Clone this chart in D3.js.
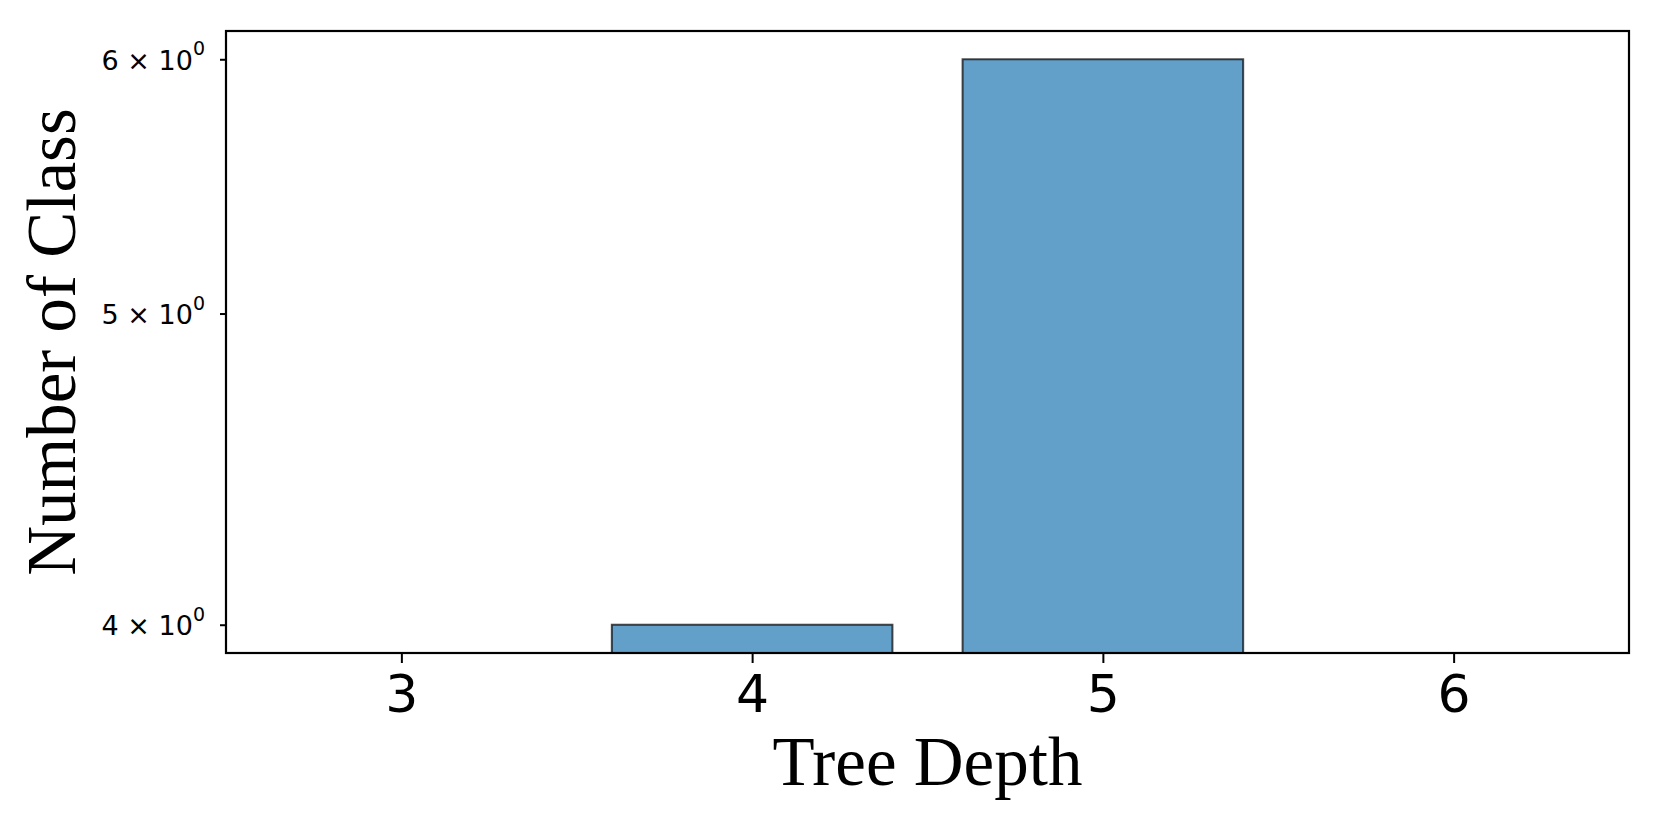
<!DOCTYPE html>
<html>
<head>
<meta charset="utf-8">
<script src="https://cdn.jsdelivr.net/npm/d3@7"></script>
<style>
  html, body { margin: 0; padding: 0; background: #ffffff; }
  svg { display: block; }
</style>
</head>
<body>
<svg id="chart" width="1661" height="830"></svg>
<script>
// ---- data ----
const categories = [3, 4, 5, 6];
const values = [0, 4, 6, 0];          // 0 = no visible bar on the log axis
const xTicks = [3, 4, 5, 6];
const yTicks = [4, 5, 6];
const yTickMantissa = ["4", "5", "6"];
const xLabel = "Tree Depth";
const yLabel = "Number of Class";

// ---- layout ----
const W = 1661, H = 830;
const plot = { left: 226, top: 31, right: 1629, bottom: 653 };
const svg = d3.select("#chart");

const x = d3.scaleLinear().domain([2.5, 6.5]).range([plot.left, plot.right]);

const positive = values.filter(v => v > 0);
const lmin = Math.log10(d3.min(positive)), lmax = Math.log10(d3.max(positive));
const pad = 0.05 * (lmax - lmin);
const y = d3.scaleLog()
  .domain([Math.pow(10, lmin - pad), Math.pow(10, lmax + pad)])
  .range([plot.bottom, plot.top]);

svg.append("defs").append("clipPath").attr("id", "clip")
  .append("rect")
  .attr("x", plot.left).attr("y", plot.top)
  .attr("width", plot.right - plot.left).attr("height", plot.bottom - plot.top);

// ---- bars ----
const barW = 0.8;
const data = categories.map((c, i) => ({ c, v: values[i] })).filter(d => d.v > 0);
svg.append("g").attr("clip-path", "url(#clip)")
  .selectAll("rect").data(data).enter().append("rect")
  .attr("x", d => x(d.c - barW / 2))
  .attr("width", d => x(d.c + barW / 2) - x(d.c - barW / 2))
  .attr("y", d => y(d.v))
  .attr("height", d => plot.bottom + 20 - y(d.v))
  .attr("fill", "#1f77b4").attr("fill-opacity", 0.7)
  .attr("stroke", "#000").attr("stroke-opacity", 0.7).attr("stroke-width", 2);

// ---- axes ----
const xAxis = svg.append("g")
  .attr("transform", `translate(0,${plot.bottom})`)
  .call(d3.axisBottom(x).tickValues(xTicks).tickFormat(d3.format("d")).tickSize(10).tickPadding(12));
xAxis.select(".domain").remove();
xAxis.selectAll(".tick line").attr("stroke", "#000").attr("stroke-width", 2);
xAxis.selectAll(".tick text")
  .attr("font-family", "DejaVu Sans, sans-serif")
  .attr("font-size", 52).attr("fill", "#000");

const yAxis = svg.append("g")
  .attr("transform", `translate(${plot.left},0)`)
  .call(d3.axisLeft(y).tickValues(yTicks).tickFormat(d => "").tickSize(6).tickPadding(15));
yAxis.select(".domain").remove();
yAxis.selectAll(".tick line").attr("stroke", "#000").attr("stroke-width", 2);
yAxis.selectAll(".tick text").each(function (d, i) {
  const t = d3.select(this)
    .attr("font-family", "DejaVu Sans, sans-serif")
    .attr("font-size", 27).attr("fill", "#000")
    .attr("dy", "0.36em");
  t.text(null);
  t.append("tspan").text(yTickMantissa[i] + " \u00d7 10");
  t.append("tspan").attr("font-size", 19).attr("dy", "-0.75em").text("0");
});

// frame
svg.append("rect")
  .attr("x", plot.left).attr("y", plot.top)
  .attr("width", plot.right - plot.left).attr("height", plot.bottom - plot.top)
  .attr("fill", "none").attr("stroke", "#000").attr("stroke-width", 2.2);

// ---- labels ----
svg.append("text")
  .attr("x", (plot.left + plot.right) / 2).attr("y", 785)
  .attr("text-anchor", "middle")
  .attr("font-family", "Liberation Serif, Times New Roman, serif")
  .attr("font-size", 69).attr("fill", "#000")
  .text(xLabel);

svg.append("text")
  .attr("transform", `translate(75,${(plot.top + plot.bottom) / 2}) rotate(-90)`)
  .attr("text-anchor", "middle")
  .attr("font-family", "Liberation Serif, Times New Roman, serif")
  .attr("font-size", 69).attr("fill", "#000")
  .text(yLabel);
</script>
</body>
</html>
